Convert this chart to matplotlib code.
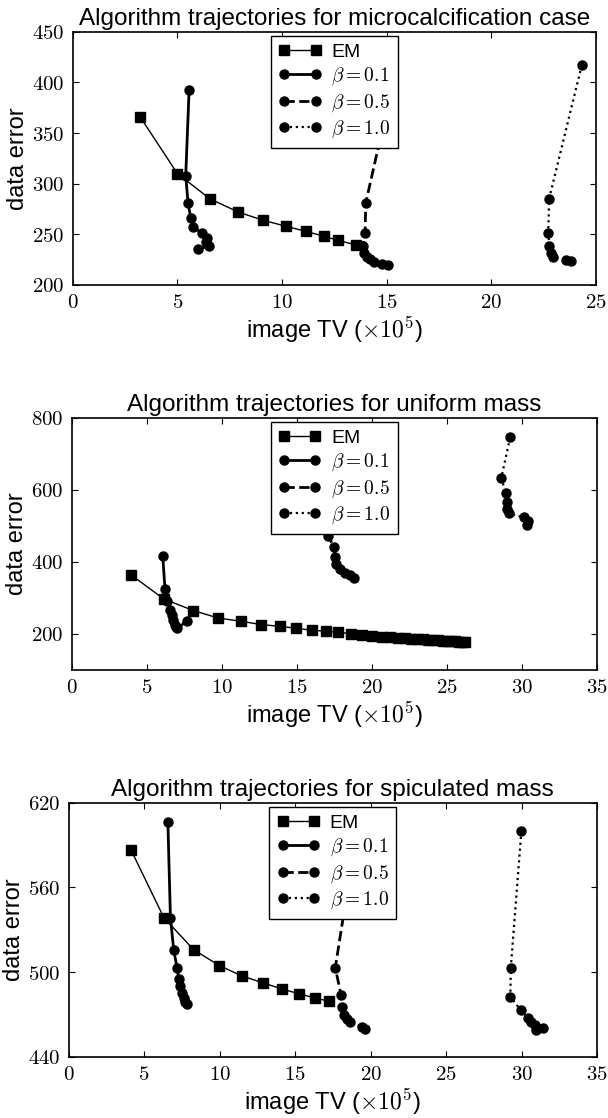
import matplotlib
matplotlib.use("Agg")
import matplotlib.pyplot as plt

plt.rcParams['font.family'] = ['Liberation Sans', 'DejaVu Sans']
plt.rcParams['mathtext.fontset'] = 'cm'

# ---------------- data ----------------
titles = ["Algorithm trajectories for microcalcification case",
          "Algorithm trajectories for uniform mass",
          "Algorithm trajectories for spiculated mass"]

# Plot 1: microcalcification case
p1_em_x = [3.22, 5.0, 6.56, 7.91, 9.08, 10.18, 11.13, 12.02, 12.69, 13.54]
p1_em_y = [366, 310, 285, 272, 264, 258, 253, 248, 244, 239.5]
p1_b01_x = [5.56, 5.40, 5.51, 5.64, 5.76, 6.19, 6.40, 6.35, 6.53, 6.0]
p1_b01_y = [392, 308, 281, 266, 257, 251, 246, 242, 238, 236]
p1_b05_x = [15.3, 14.0, 13.97, 13.88, 13.93, 14.05, 14.2, 14.4, 14.76, 15.08]
p1_b05_y = [400, 281, 251.5, 238.5, 232, 228, 225.5, 223, 220.7, 219.7]
p1_b10_x = [24.32, 22.76, 22.72, 22.77, 22.84, 22.93, 23.57, 23.79]
p1_b10_y = [417, 285, 251.5, 238, 232, 227.5, 224.5, 223.5]

# Plot 2: uniform mass
p2_em_x = [3.96, 6.14, 8.1, 9.77, 11.3, 12.62, 13.86, 14.93, 16.02, 16.93,
           17.74, 18.59, 19.37, 20.04, 20.7, 21.25, 21.75, 22.2, 22.62, 23.02,
           23.4, 23.76, 24.1, 24.42, 24.73, 25.02, 25.3, 25.56, 25.8, 26.02, 26.2]
p2_em_y = [363, 296, 264, 243, 234, 225, 220, 215, 209, 206.5,
           203.5, 200, 197, 194.5, 191.5, 189.5, 188.3, 187.2, 186.1, 185.1,
           184.1, 183.1, 182.2, 181.3, 180.4, 179.5, 178.7, 177.9, 177.1, 176.4, 175.7]
p2_b01_x = [6.07, 6.22, 6.38, 6.54, 6.67, 6.78, 6.87, 6.95, 7.05, 7.67]
p2_b01_y = [415, 323, 290, 265, 251, 237, 225, 218, 215.5, 234]
p2_b05_x = [16.8, 17.09, 17.49, 17.53, 17.64, 17.87, 18.2, 18.54, 18.8]
p2_b05_y = [560, 472, 440, 412, 394, 380, 368, 361.5, 355]
p2_b10_x = [29.23, 28.63, 28.97, 29.0, 29.05, 29.12, 30.12, 30.4, 30.35]
p2_b10_y = [745, 631, 590, 565, 546, 534, 523, 514, 503]

# Plot 3: spiculated mass
p3_em_x = [4.13, 6.3, 8.28, 9.99, 11.48, 12.84, 14.11, 15.23, 16.3, 17.27]
p3_em_y = [586.5, 538.6, 515.8, 504.5, 497.2, 492.5, 488, 484.7, 481.6, 479.3]
p3_b01_x = [6.57, 6.74, 6.96, 7.18, 7.29, 7.4, 7.51, 7.62, 7.73, 7.84]
p3_b01_y = [606.5, 538.6, 515.3, 503.1, 495.3, 489.9, 485.2, 481.6, 478.8, 477]
p3_b05_x = [18.5, 17.66, 18.04, 18.1, 18.26, 18.47, 18.63, 19.42, 19.64]
p3_b05_y = [560, 503.1, 484, 475, 469.4, 466.4, 464.3, 461.2, 459.5]
p3_b10_x = [29.99, 29.29, 29.26, 29.95, 30.43, 30.65, 30.87, 30.97, 31.41]
p3_b10_y = [600, 503.1, 482.4, 473, 467.1, 464.7, 462.4, 458.8, 460]

xlims = [(0, 25), (0, 35), (0, 35)]
ylims = [(200, 450), (100, 800), (440, 620)]
xticks = [[0, 5, 10, 15, 20, 25], [0, 5, 10, 15, 20, 25, 30, 35], [0, 5, 10, 15, 20, 25, 30, 35]]
yticks = [[200, 250, 300, 350, 400, 450], [200, 400, 600, 800], [440, 500, 560, 620]]

series = [
    (p1_em_x, p1_em_y, p1_b01_x, p1_b01_y, p1_b05_x, p1_b05_y, p1_b10_x, p1_b10_y),
    (p2_em_x, p2_em_y, p2_b01_x, p2_b01_y, p2_b05_x, p2_b05_y, p2_b10_x, p2_b10_y),
    (p3_em_x, p3_em_y, p3_b01_x, p3_b01_y, p3_b05_x, p3_b05_y, p3_b10_x, p3_b10_y),
]
labels = ["EM", r"$\beta = 0.1$", r"$\beta = 0.5$", r"$\beta = 1.0$"]

# ---------------- layout ----------------
W, H = 608, 1118
fig = plt.figure(figsize=(W / 100, H / 100), dpi=100)
boxes = [(72.7, 596.0, 31.7, 285.0), (71.7, 596.7, 417.7, 669.5), (68.7, 597.0, 802.7, 1056.7)]

for i, (l, r, t, b) in enumerate(boxes):
    ax = fig.add_axes([l / W, (H - b) / H, (r - l) / W, (b - t) / H])
    ex, ey, x1, y1, x5, y5, x10, y10 = series[i]
    ax.plot(ex, ey, '-s', color='black', lw=1.0, ms=7, label=labels[0], zorder=3)
    ax.plot(x1, y1, '-o', color='black', lw=2.0, ms=6.5, label=labels[1], zorder=3)
    ax.plot(x5, y5, '--o', color='black', lw=2.0, ms=6.5, label=labels[2], zorder=3)
    ax.plot(x10, y10, ':o', color='black', lw=1.6, ms=6.5, label=labels[3], zorder=3)
    ax.set_xlim(*xlims[i])
    ax.set_ylim(*ylims[i])
    ax.set_xticks(xticks[i])
    ax.set_yticks(yticks[i])
    ax.set_xticklabels([f"${v}$" for v in xticks[i]])
    ax.set_yticklabels([f"${v}$" for v in yticks[i]])
    ax.tick_params(direction='in', length=4, width=0.8, top=True, right=True,
                   labelsize=15, pad=6)
    for s in ax.spines.values():
        s.set_linewidth(1.2)
    ax.set_title(titles[i], fontsize=17.5, pad=5)
    ax.set_xlabel(r"image TV ($\times10^5$)", fontsize=17, labelpad=2)
    ax.set_ylabel("data error", fontsize=17, labelpad=2)
    leg = ax.legend(loc='upper center', bbox_to_anchor=(0.5, 1.0), fontsize=14,
                    numpoints=2, fancybox=False, framealpha=1, edgecolor='black',
                    borderaxespad=0.2, handlelength=2.2, handletextpad=0.5,
                    labelspacing=0.25, borderpad=0.4)
    leg.get_frame().set_linewidth(1.0)
    leg.set_zorder(5)

fig.savefig("out.png", dpi=100)
